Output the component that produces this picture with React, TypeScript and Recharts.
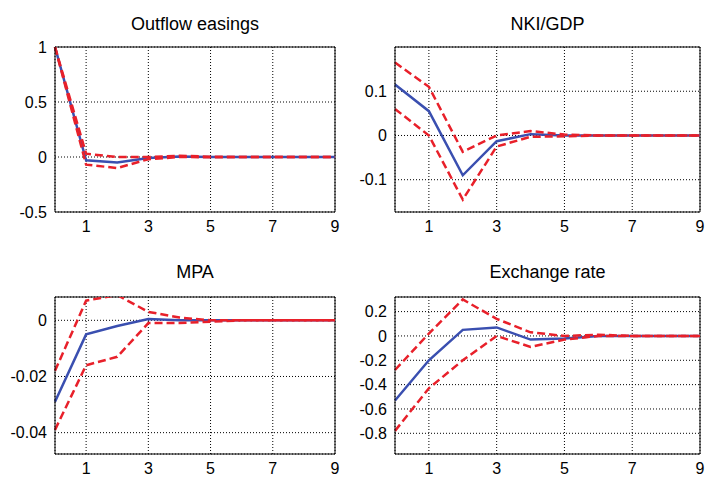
import React from 'react';
import { LineChart, Line, XAxis, YAxis, CartesianGrid, ReferenceLine } from 'recharts';

const steps = [0, 1, 2, 3, 4, 5, 6, 7, 8, 9];
const xTicks = [1, 3, 5, 7, 9];

const outflowMid = [1, -0.03, -0.05, -0.01, 0.005, 0, 0, 0, 0, 0];
const outflowUp = [1, 0.03, 0.0, 0.0, 0.012, 0.003, 0, 0, 0, 0];
const outflowLo = [1, -0.07, -0.1, -0.02, 0, -0.003, 0, 0, 0, 0];

const nkiMid = [0.115, 0.055, -0.09, -0.013, 0.003, 0, 0, 0, 0, 0];
const nkiUp = [0.165, 0.11, -0.037, 0, 0.01, 0.002, 0, 0, 0, 0];
const nkiLo = [0.06, 0, -0.145, -0.025, -0.003, -0.002, 0, 0, 0, 0];

const mpaMid = [-0.029, -0.005, -0.002, 0.0005, 0, 0, 0, 0, 0, 0];
const mpaUp = [-0.018, 0.007, 0.009, 0.003, 0.001, 0, 0, 0, 0, 0];
const mpaLo = [-0.039, -0.016, -0.013, -0.001, -0.001, -0.0005, 0, 0, 0, 0];

const fxMid = [-0.53, -0.2, 0.05, 0.07, -0.03, -0.02, 0, 0, 0, 0];
const fxUp = [-0.28, 0.02, 0.3, 0.14, 0.03, 0, 0.01, 0, 0, 0];
const fxLo = [-0.78, -0.43, -0.2, 0, -0.09, -0.03, 0, 0, 0, 0];

const family = '"Liberation Sans Narrow", "Liberation Sans", Arial, sans-serif';
const font = { fontFamily: family, fontSize: 16, fill: '#000' };

type PanelProps = {
  title: string; mid: number[]; up: number[]; lo: number[];
  domain: [number, number]; yTicks: number[];
  left: number; top: number; width: number;
};

const Panel = ({ title, mid, up, lo, domain, yTicks, left, top, width }: PanelProps) => {
  const data = steps.map((s, i) => ({ s, mid: mid[i], up: up[i], lo: lo[i] }));
  const upper = top === 0;
  return (
    <div style={{ position: 'absolute', left, top, width, height: 240 }}>
      <div style={{ position: 'absolute', top: upper ? 14 : 22, left: 55, right: 5, textAlign: 'center', fontFamily: family, fontSize: 18 }}>{title}</div>
      <LineChart width={width} height={240} data={data} margin={{ top: upper ? 47 : 57, right: 5, bottom: 0, left: 0 }}>
        <CartesianGrid stroke="#000" strokeDasharray="1 2" />
        <XAxis dataKey="s" type="number" domain={[0, 9]} ticks={xTicks} interval={0} tick={font} tickLine={false} stroke="#000" tickMargin={3} height={upper ? 28 : 26} />
        <YAxis type="number" domain={domain} ticks={yTicks} interval={0} tick={font} tickLine={false} stroke="#000" width={55} allowDataOverflow />
        <ReferenceLine y={domain[1]} stroke="#000" />
        <ReferenceLine x={9} stroke="#000" />
        <Line dataKey="mid" stroke="#3a4fb0" strokeWidth={2.5} dot={false} isAnimationActive={false} />
        <Line dataKey="up" stroke="#e8202a" strokeWidth={2.5} strokeDasharray="8 4" dot={false} isAnimationActive={false} />
        <Line dataKey="lo" stroke="#e8202a" strokeWidth={2.5} strokeDasharray="8 4" dot={false} isAnimationActive={false} />
      </LineChart>
    </div>
  );
};

export default function App() {
  return (
    <div style={{ position: 'absolute', left: 0, top: 0, width: 705, height: 480, background: '#fff' }}>
      <Panel title="Outflow easings" mid={outflowMid} up={outflowUp} lo={outflowLo} domain={[-0.5, 1]} yTicks={[-0.5, 0, 0.5, 1]} left={0} top={0} width={340} />
      <Panel title="NKI/GDP" mid={nkiMid} up={nkiUp} lo={nkiLo} domain={[-0.173, 0.2]} yTicks={[-0.1, 0, 0.1]} left={340} top={0} width={365} />
      <Panel title="MPA" mid={mpaMid} up={mpaUp} lo={mpaLo} domain={[-0.0476, 0.0083]} yTicks={[-0.04, -0.02, 0]} left={0} top={240} width={340} />
      <Panel title="Exchange rate" mid={fxMid} up={fxUp} lo={fxLo} domain={[-0.97, 0.32]} yTicks={[-0.8, -0.6, -0.4, -0.2, 0, 0.2]} left={340} top={240} width={365} />
    </div>
  );
}
